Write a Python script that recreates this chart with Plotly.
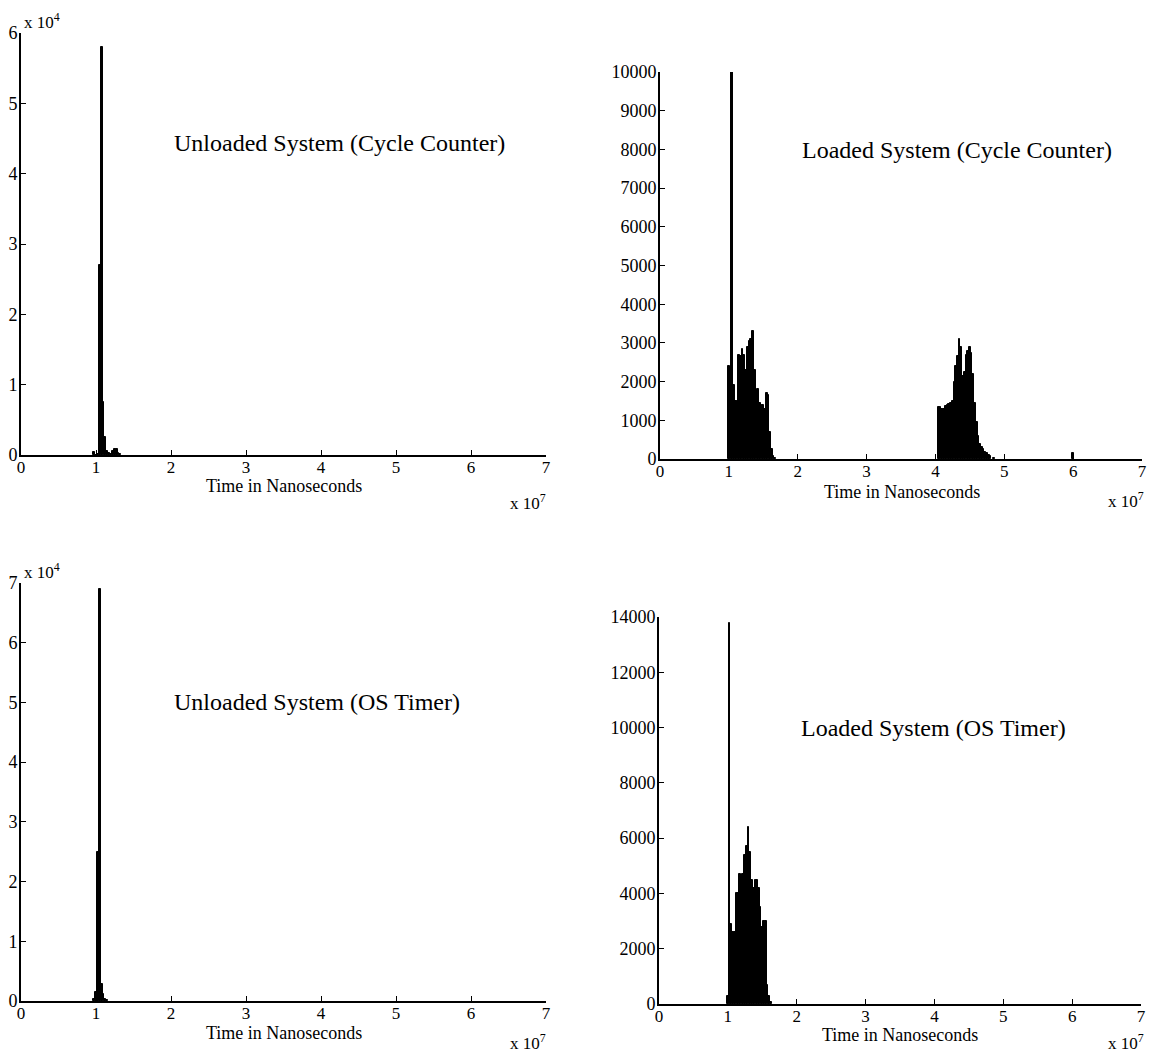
import plotly.graph_objects as go

# ---------------- data (x in units of 1e7 ns, y in counts) ----------------
bin_width = 0.025

uc_x = [0.975, 1.000, 1.025, 1.050, 1.075, 1.100, 1.125, 1.150, 1.175, 1.200, 1.225, 1.250, 1.275, 1.300, 1.325]
uc_y = [400, 0, 200, 27000, 58000, 7500, 2500, 600, 300, 200, 500, 900, 800, 300, 100]

lc_x = [1.000, 1.025, 1.050, 1.075, 1.100, 1.125, 1.150, 1.175, 1.200, 1.225, 1.250, 1.275, 1.300,
        1.325, 1.350, 1.375, 1.400, 1.425, 1.450, 1.475, 1.500, 1.525, 1.550, 1.575, 1.600, 1.625,
        1.650, 1.675,
        4.050, 4.075, 4.100, 4.125, 4.150, 4.175, 4.200, 4.225, 4.250, 4.275, 4.300, 4.325, 4.350,
        4.375, 4.400, 4.425, 4.450, 4.475, 4.500, 4.525, 4.550, 4.575, 4.600, 4.625, 4.650, 4.675,
        4.700, 4.725, 4.750, 4.775, 4.800, 4.850, 6.000]
lc_y = [2400, 2300, 10000, 1900, 1500, 1500, 2700, 2650, 2850, 2700, 2300, 2900, 3050,
        3100, 3300, 2300, 1600, 1800, 1450, 1400, 1400, 1300, 1700, 1650, 700, 250,
        80, 20,
        1350, 1350, 1300, 1300, 1380, 1400, 1420, 1450, 1500, 2000, 2400, 2650, 3100,
        2900, 2150, 2250, 2700, 2800, 2900, 2750, 2200, 1450, 950, 600, 400, 300,
        250, 180, 150, 100, 80, 30, 150]

uo_x = [0.975, 1.000, 1.025, 1.050, 1.075, 1.100, 1.125, 1.150]
uo_y = [300, 1500, 25000, 69000, 2800, 1200, 400, 100]

lo_x = [1.000, 1.025, 1.050, 1.075, 1.100, 1.125, 1.150, 1.175, 1.200, 1.225, 1.250, 1.275, 1.300,
        1.325, 1.350, 1.375, 1.400, 1.425, 1.450, 1.475, 1.500, 1.525, 1.550, 1.575, 1.600, 1.625]
lo_y = [300, 13800, 2900, 2600, 2600, 4000, 4000, 4700, 4000, 4700, 5400, 5700, 6400,
        5500, 4500, 4200, 4500, 4500, 4200, 3500, 2800, 3000, 3000, 700, 300, 80]

x_ticks = [0, 1, 2, 3, 4, 5, 6, 7]
uc_yticks = [0, 10000, 20000, 30000, 40000, 50000, 60000]
uc_yticklabels = ["0", "1", "2", "3", "4", "5", "6"]
lc_yticks = [0, 1000, 2000, 3000, 4000, 5000, 6000, 7000, 8000, 9000, 10000]
uo_yticks = [0, 10000, 20000, 30000, 40000, 50000, 60000, 70000]
uo_yticklabels = ["0", "1", "2", "3", "4", "5", "6", "7"]
lo_yticks = [0, 2000, 4000, 6000, 8000, 10000, 12000, 14000]

titles = ["Unloaded System (Cycle Counter)", "Loaded System (Cycle Counter)",
          "Unloaded System (OS Timer)", "Loaded System (OS Timer)"]
xlabel = "Time in Nanoseconds"

# ---------------- layout geometry (page pixels; the page body has an 8px offset) ----------------
OFF = 8
W, H = 1155 - OFF, 1053 - OFF
def px(x):
    return (x - OFF) / W
def py(y):
    return 1 - (y - OFF) / H

FONT = "Liberation Serif"

panels = [
    dict(x=uc_x, y=uc_y, yt=uc_yticks, ytl=uc_yticklabels, yr=60000, xd=(21, 546), yd=(33, 455)),
    dict(x=lc_x, y=lc_y, yt=lc_yticks, ytl=[str(v) for v in lc_yticks], yr=10000, xd=(660, 1142), yd=(72, 459)),
    dict(x=uo_x, y=uo_y, yt=uo_yticks, ytl=uo_yticklabels, yr=70000, xd=(21, 546), yd=(583, 1001)),
    dict(x=lo_x, y=lo_y, yt=lo_yticks, ytl=[str(v) for v in lo_yticks], yr=14000, xd=(659, 1141), yd=(617, 1004)),
]

fig = go.Figure()
layout = dict(
    width=W, height=H,
    margin=dict(l=0, r=0, t=0, b=0),
    paper_bgcolor="white", plot_bgcolor="white",
    showlegend=False, bargap=0,
    font=dict(family=FONT, color="black"),
)

for i, p in enumerate(panels, start=1):
    xa = "x" if i == 1 else f"x{i}"
    ya = "y" if i == 1 else f"y{i}"
    fig.add_trace(go.Bar(
        x=p["x"], y=p["y"], width=bin_width,
        marker=dict(color="black", line=dict(width=1, color="black")),
        xaxis=xa, yaxis=ya,
    ))
    axis_common = dict(
        showline=True, linecolor="black", linewidth=1.6, mirror=False,
        ticks="inside", ticklen=5, tickwidth=1.2, tickcolor="black",
        showgrid=False, zeroline=False, automargin=False,
    )
    layout["xaxis" if i == 1 else f"xaxis{i}"] = dict(
        axis_common, domain=[px(p["xd"][0]), px(p["xd"][1])],
        range=[0, 7], tickvals=x_ticks, ticktext=[str(t) for t in x_ticks],
        anchor=ya, ticklabelstandoff=-4,
        tickfont=dict(family=FONT, size=17, color="black"),
    )
    layout["yaxis" if i == 1 else f"yaxis{i}"] = dict(
        axis_common, domain=[py(p["yd"][1]), py(p["yd"][0])],
        range=[0, p["yr"]], tickvals=p["yt"], ticktext=p["ytl"],
        anchor=xa, ticklabelstandoff=-2,
        tickfont=dict(family=FONT, size=18, color="black"),
    )

annotations = []
# panel titles
title_pos = [(172, 143), (800, 150), (172, 702), (799, 728)]
for t, (x, y) in zip(titles, title_pos):
    annotations.append(dict(text=t, x=px(x), y=py(y), xref="paper", yref="paper",
                            xanchor="left", yanchor="middle", showarrow=False,
                            font=dict(family=FONT, size=24, color="black")))
# x labels
xlab_pos = [(284, 486), (902, 492), (284, 1033), (900, 1035)]
for (x, y) in xlab_pos:
    annotations.append(dict(text=xlabel, x=px(x), y=py(y), xref="paper", yref="paper",
                            xanchor="center", yanchor="middle", showarrow=False,
                            font=dict(family=FONT, size=18, color="black")))
# x10^7 multipliers (right-aligned under the end of each x axis)
mult7_pos = [(548, 502), (1146, 500), (548, 1042), (1146, 1042)]
for (x, y) in mult7_pos:
    annotations.append(dict(text="x 10<sup>7</sup>", x=px(x), y=py(y), xref="paper", yref="paper",
                            xanchor="right", yanchor="middle", showarrow=False,
                            font=dict(family=FONT, size=17, color="black")))
# x10^4 multipliers (above the top of the left y axes)
mult4_pos = [(22, 34), (22, 584)]
for (x, y) in mult4_pos:
    annotations.append(dict(text="x 10<sup>4</sup>", x=px(x), y=py(y), xref="paper", yref="paper",
                            xanchor="left", yanchor="bottom", showarrow=False,
                            font=dict(family=FONT, size=17, color="black")))

layout["annotations"] = annotations
fig.update_layout(**layout)
fig.write_html("out.html")
